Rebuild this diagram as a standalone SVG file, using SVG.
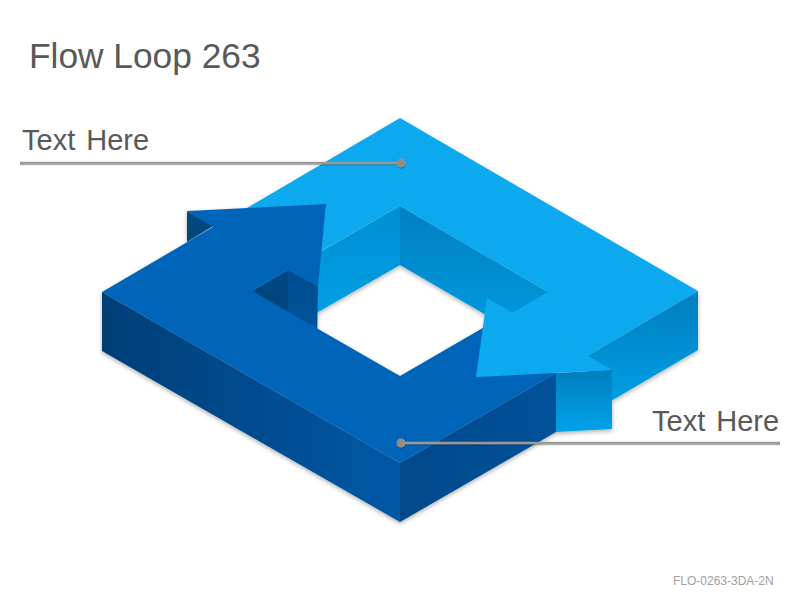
<svg xmlns="http://www.w3.org/2000/svg" width="800" height="600" viewBox="0 0 800 600">
<style>
.title{font-family:"Liberation Sans",Arial,sans-serif;font-size:35.3px;fill:#595959}
.lbl{font-family:"Liberation Sans",Arial,sans-serif;font-size:29px;fill:#595959;word-spacing:3px}
.code{font-family:"Liberation Sans",Arial,sans-serif;font-size:12px;fill:#A0A0A0}
.lead{stroke:#9A9A9A;stroke-width:2.5;fill:none}
.dot{fill:#8E8E8E}
.ltop{fill:#10A9EF}
.dtop{fill:#0565B9}
</style>
<defs>
<linearGradient id="lwallR" x1="0" y1="0" x2="0" y2="1"><stop offset="0" stop-color="#0080C2"/><stop offset="1" stop-color="#009EE2"/></linearGradient>
<linearGradient id="lwallL" x1="0" y1="0" x2="0" y2="1"><stop offset="0" stop-color="#008ED2"/><stop offset="1" stop-color="#00A4EA"/></linearGradient>
<linearGradient id="lface" x1="0" y1="0" x2="0" y2="1"><stop offset="0" stop-color="#007EBF"/><stop offset="1" stop-color="#00A2E8"/></linearGradient>
<linearGradient id="dleft" x1="0" y1="0" x2="1" y2="0"><stop offset="0" stop-color="#003E77"/><stop offset="1" stop-color="#0058A5"/></linearGradient>
<linearGradient id="dright" x1="0" y1="0" x2="1" y2="0"><stop offset="0" stop-color="#00498A"/><stop offset="1" stop-color="#00529A"/></linearGradient>
<linearGradient id="dnotch" x1="0" y1="0" x2="0" y2="1"><stop offset="0" stop-color="#004C8C"/><stop offset="1" stop-color="#00579F"/></linearGradient>
<filter id="sh" x="-10%" y="-10%" width="120%" height="130%"><feDropShadow dx="0" dy="2" stdDeviation="2" flood-color="#000" flood-opacity="0.3"/></filter>
<filter id="lsh" x="-5%" y="-200%" width="110%" height="500%"><feDropShadow dx="0" dy="1" stdDeviation="0.6" flood-color="#000" flood-opacity="0.35"/></filter>
</defs>
<rect width="800" height="600" fill="#FFFFFF"/>
<text class="title" x="29" y="68">Flow Loop 263</text>
<g filter="url(#sh)">
<g id="arrow-light-body">
<polygon points="252,291 400,206 400,265 252,350" fill="url(#lwallL)"/>
<polygon points="400,206 548,292 548,351 400,265" fill="url(#lwallR)"/>
<polygon points="698,291 698,350 587,415 587,356" fill="url(#lface)"/>
<polygon class="ltop" points="230,218 400,118 698,291 587,356 512,313 548,292 400,206 300,263"/>
</g>
<g id="arrow-dark">
<polygon points="102,292 400,463 400,522 102,351" fill="url(#dleft)"/>
<polygon points="400,463 556,373 556,432 400,522" fill="url(#dright)"/>
<polygon points="252,291 288,270 288,330 252,350" fill="#004682"/>
<polygon points="288,270 318,286 317,345 288,330" fill="url(#dnotch)"/>
<polygon points="187,211 213,226 187,242" fill="#00487F"/>
<polygon class="dtop" points="102,292 213,227 187,211 326,204 318,286 288,270 252,291 400,376 500,318 556,373 400,463"/>
</g>
<g id="arrow-light-head">
<polygon points="556,373 612,370 612,429 556,432" fill="url(#lface)"/>
<polygon class="ltop" points="487,298 612,370 476,377"/>
</g>
</g>
<g id="connectors" filter="url(#lsh)">
<line class="lead" x1="20" y1="163" x2="401" y2="163"/>
<circle class="dot" cx="401" cy="163" r="4.5"/>
<line class="lead" x1="401" y1="443" x2="780" y2="443"/>
<circle class="dot" cx="401" cy="443" r="4.5"/>
</g>
<g id="label-top"><text class="lbl" x="22" y="150">Text Here</text></g>
<g id="label-bottom"><text class="lbl" x="652" y="431">Text Here</text></g>
<text class="code" x="673" y="585">FLO-0263-3DA-2N</text>
</svg>
